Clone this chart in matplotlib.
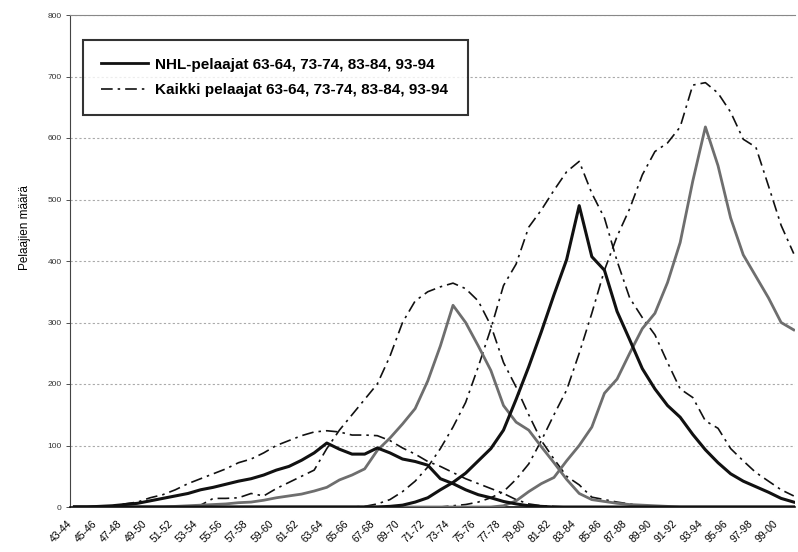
import matplotlib
matplotlib.use("Agg")
import matplotlib.pyplot as plt
from matplotlib.lines import Line2D
from matplotlib.transforms import ScaledTranslation

plt.rcParams['font.family'] = ['Liberation Sans', 'DejaVu Sans']

# Categories: seasons 43-44 ... 00-01
start_years = list(range(1943, 2001))
seasons = [f"{y % 100:02d}-{(y + 1) % 100:02d}" for y in start_years]

nhl_6364 = [0, 0, 1, 2, 4, 6, 10, 14, 18, 22, 28, 32, 37, 42, 46, 52, 60, 66, 76, 88,
            104, 94, 86, 86, 96, 88, 78, 74, 68, 46, 38, 28, 20, 15, 9, 5, 2, 1] + [0] * 20
all_6364 = [0, 0, 1, 2, 5, 8, 15, 20, 28, 38, 46, 54, 62, 72, 78, 88, 100, 108, 116, 122,
            124, 122, 117, 117, 116, 108, 96, 86, 74, 66, 56, 46, 38, 30, 22, 12, 5, 2, 1] + [0] * 19
nhl_7374 = [0] * 8 + [1, 2, 3, 4, 5, 7, 8, 11, 15, 18, 21, 26, 32, 44, 52, 62, 92, 112, 135, 160,
                      205, 262, 328, 300, 262, 222, 165, 138, 125, 98, 72, 45, 22, 12, 9, 6, 4, 3, 2, 1] + [0] * 10
all_7374 = [0] * 10 + [3, 14, 14, 15, 22, 18, 30, 40, 50, 60, 95, 125, 150, 175, 200, 245, 300, 335,
                       350, 358, 364, 355, 335, 295, 235, 195, 150, 108, 78, 50, 36, 16, 12, 8, 5, 2] + [0] * 12
nhl_8384 = [0] * 25 + [1, 3, 8, 15, 28, 40, 55, 75, 95, 125, 175, 228, 285, 345, 402, 490,
                       407, 385, 318, 272, 225, 192, 165, 146, 118, 93, 72, 54, 42, 33, 24, 14, 8]
all_8384 = [0] * 23 + [1, 5, 12, 25, 42, 65, 95, 130, 170, 228, 290, 360, 395, 455, 483, 515, 545, 562,
                       510, 470, 400, 340, 308, 280, 235, 192, 178, 140, 128, 95, 75, 56, 42, 28, 18]
nhl_9394 = [0] * 34 + [2, 10, 25, 38, 48, 75, 100, 130, 185, 208, 250, 290, 315, 365, 430, 530, 618,
                       555, 470, 410, 375, 340, 300, 288]
all_9394 = [0] * 30 + [2, 4, 8, 15, 25, 45, 70, 108, 150, 190, 250, 315, 385, 440, 485, 540, 578, 592,
                       618, 686, 690, 673, 642, 598, 585, 522, 458, 412]

legend_labels = ["NHL-pelaajat 63-64, 73-74, 83-84, 93-94",
                 "Kaikki pelaajat 63-64, 73-74, 83-84, 93-94"]
y_label = "Pelaajien määrä"

fig = plt.figure(figsize=(7.98, 5.52), dpi=100)
ax = fig.add_axes([70 / 798, 45 / 552, 725 / 798, 492 / 552])

x = list(range(len(seasons)))
dashdot = (0, (7, 3, 1.5, 3))
black = '#111111'
gray = '#6e6e6e'

for series in [all_6364, all_7374, all_8384, all_9394]:
    ax.plot(x, series, color=black, lw=1.2, linestyle=dashdot, zorder=3)
ax.plot(x, nhl_9394, color=gray, lw=2.0, zorder=4)
ax.plot(x, nhl_7374, color=gray, lw=2.0, zorder=4)
ax.plot(x, nhl_8384, color=black, lw=2.2, zorder=5)
ax.plot(x, nhl_6364, color=black, lw=2.2, zorder=5)

ax.set_xlim(-0.35, 57.1)
ax.set_ylim(0, 800)
ax.set_yticks(range(0, 801, 100))
ax.yaxis.grid(True, color='#aaaaaa', linestyle=(0, (2, 2)), lw=0.8)
ax.set_axisbelow(True)

ax.set_xticks(x[::2])
ax.set_xticklabels(seasons[::2], rotation=45, ha='right', rotation_mode='anchor', fontsize=7.5)
ax.tick_params(axis='x', length=0, pad=8)
shift = ScaledTranslation(-8 / 100, 0, fig.dpi_scale_trans)
for lbl in ax.get_xticklabels():
    lbl.set_transform(lbl.get_transform() + shift)
ax.tick_params(axis='y', length=3, width=0.6, labelsize=6, colors='#333333', pad=3)

ax.spines['right'].set_visible(False)
ax.spines['top'].set_color('#888888')
ax.spines['top'].set_linewidth(0.8)
ax.spines['left'].set_color('#444444')
ax.spines['left'].set_linewidth(0.8)
ax.spines['bottom'].set_color('#111111')
ax.spines['bottom'].set_linewidth(1.2)

fig.text(25 / 798, 1 - 228 / 552, y_label, rotation=90, ha='center', va='center', fontsize=8.5)

handles = [Line2D([], [], color=black, lw=2.0),
           Line2D([], [], color=black, lw=1.2, linestyle=dashdot)]
leg = ax.legend(handles, legend_labels, loc='upper left',
                bbox_to_anchor=(13 / 725, (507 - 117) / 492, 385 / 725, 77 / 492), mode='expand',
                prop={'weight': 'bold', 'size': 11}, frameon=True, fancybox=False,
                handlelength=3.1, handletextpad=0.45, labelspacing=0.75,
                borderpad=1.15, borderaxespad=0)
leg.get_frame().set_edgecolor('black')
leg.get_frame().set_linewidth(1.5)
leg.get_frame().set_facecolor('white')

fig.savefig("out.png", dpi=100)
